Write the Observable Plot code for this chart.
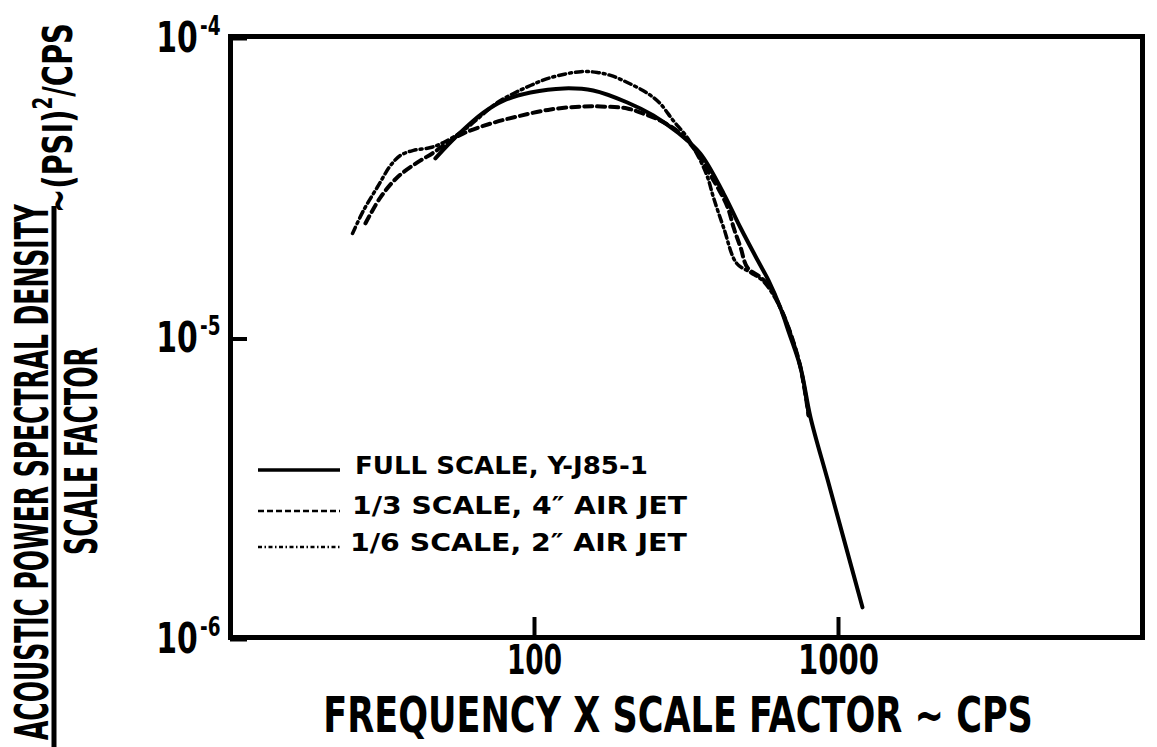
<!DOCTYPE html>
<html><head><meta charset="utf-8">
<script src="https://cdn.jsdelivr.net/npm/d3@7"></script>
<script src="https://cdn.jsdelivr.net/npm/@observablehq/plot@0.6"></script>
<style>
html,body{margin:0;padding:0;background:#fff;}
#chart{width:1157px;height:747px;overflow:hidden;position:relative;}
svg{display:block;}
</style></head><body><div id="chart"></div>
<script>
// ---------- data ----------
const xTicks = [100, 1000];
const yTicks = [1e-4, 1e-5, 1e-6];

const fullX = [47.2, 55.8, 67.9, 79.1, 97, 125, 156, 202, 246, 295, 351, 419, 476, 542, 589, 644, 688, 750, 809, 920, 1038, 1199];
const fullY = [3.93e-5, 4.69e-5, 5.58e-5, 6.12e-5, 6.51e-5, 6.72e-5, 6.61e-5, 6.03e-5, 5.46e-5, 4.80e-5, 4.08e-5, 3.00e-5, 2.31e-5, 1.80e-5, 1.54e-5, 1.25e-5, 1.03e-5, 7.92e-6, 5.40e-6, 3.36e-6, 2.15e-6, 1.26e-6];

const thirdX = [27.8, 31.1, 35.4, 41.2, 46.6, 51.8, 58.4, 71.7, 87.9, 113, 145, 165, 202, 228, 259, 302, 344, 371, 400, 432, 452, 476, 502, 554, 597, 644, 695, 750, 797];
const thirdY = [2.39e-5, 2.91e-5, 3.40e-5, 3.81e-5, 4.11e-5, 4.44e-5, 4.76e-5, 5.13e-5, 5.42e-5, 5.72e-5, 5.85e-5, 5.85e-5, 5.76e-5, 5.54e-5, 5.25e-5, 4.76e-5, 4.08e-5, 3.58e-5, 3.15e-5, 2.70e-5, 2.31e-5, 1.99e-5, 1.70e-5, 1.58e-5, 1.46e-5, 1.25e-5, 1.03e-5, 7.92e-6, 5.48e-6];

const sixthX = [25.2, 27.4, 30.4, 33.6, 36.2, 40.0, 45.5, 50.2, 58.4, 75.5, 85.3, 97.0, 113, 142, 161, 178, 202, 236, 259, 286, 318, 351, 371, 388, 419, 462, 514, 567, 644, 695, 750, 797];
const sixthY = [2.21e-5, 2.64e-5, 3.15e-5, 3.72e-5, 4.02e-5, 4.18e-5, 4.27e-5, 4.44e-5, 4.87e-5, 6.03e-5, 6.46e-5, 6.87e-5, 7.30e-5, 7.64e-5, 7.59e-5, 7.42e-5, 7.03e-5, 6.46e-5, 5.98e-5, 5.25e-5, 4.61e-5, 3.87e-5, 3.40e-5, 2.91e-5, 2.31e-5, 1.76e-5, 1.64e-5, 1.53e-5, 1.25e-5, 1.03e-5, 7.92e-6, 5.48e-6];

const legendLabels = ["FULL SCALE, Y-J85-1", "1/3 SCALE, 4\u2033 AIR JET", "1/6 SCALE, 2\u2033 AIR JET"];
const xTitle = "FREQUENCY X SCALE FACTOR ~ CPS";
const yTitleNum = "ACOUSTIC POWER SPECTRAL DENSITY";
const yTitleDen = "SCALE FACTOR";
const yTitleUnitA = "~(PSI)", yTitleUnitSup = "2", yTitleUnitB = "/CPS";

// ---------- styling ----------
const FONT = '"DejaVu Sans Condensed","DejaVu Sans",sans-serif';
const dashes = ["none", "8,5", "7,4,2,4"];
const legendDashes = ["none", "6,3", "4,2.5,1.5,2.5"];

const toRows = (xs, ys) => xs.map((x, i) => ({x, y: ys[i]}));
const supMap = {"-": "\u207B", "0": "\u2070", "1": "\u00B9", "2": "\u00B2", "3": "\u00B3", "4": "\u2074", "5": "\u2075", "6": "\u2076"};

const chart = Plot.plot({
  width: 1157, height: 747,
  marginLeft: 230, marginRight: 15, marginTop: 36, marginBottom: 110,
  style: {fontFamily: FONT, background: "#fff", color: "#000"},
  x: {type: "log", domain: [10, 10000]},
  y: {type: "log", domain: [1e-6, 1e-4]},
  marks: [
    Plot.line(toRows(fullX, fullY), {x: "x", y: "y", stroke: "#000", strokeWidth: 4, curve: "catmull-rom"}),
    Plot.line(toRows(thirdX, thirdY), {x: "x", y: "y", stroke: "#000", strokeWidth: 4, strokeDasharray: dashes[1], curve: "catmull-rom"}),
    Plot.line(toRows(sixthX, sixthY), {x: "x", y: "y", stroke: "#000", strokeWidth: 3.5, strokeDasharray: dashes[2], curve: "catmull-rom"}),
    Plot.axisX({ticks: xTicks, tickFormat: d => String(d), tickSize: -20, tickPadding: 28, strokeWidth: 4,
      fontSize: 40, fontWeight: "bold", label: null}),
    Plot.axisY({ticks: yTicks, tickFormat: d => "10" + String(Math.round(Math.log10(d))).split("").map(c => supMap[c]).join(""),
      tickSize: -17, tickPadding: 27, strokeWidth: 4, fontSize: 42, fontWeight: "bold", dy: 2, label: null}),
    Plot.frame({stroke: "#000", strokeWidth: 5})
  ]
});
document.getElementById("chart").appendChild(chart);

const svg = d3.select(chart);
const unsup = Object.fromEntries(Object.entries(supMap).map(([k, v]) => [v, k]));

// squeeze a text horizontally (in its own frame) to a target width
function squeeze(sel, target) {
  const w = sel.node().getComputedTextLength();
  const k = w > 0 ? target / w : 1;
  const tr = sel.attr("transform") || "";
  sel.attr("transform", `${tr} scale(${k},1)`);
}

// x tick labels: condensed widths
const xLabelWidth = {"100": 55, "1000": 81};
svg.selectAll('g[aria-label="x-axis tick label"] text').each(function () {
  const t = this.textContent;
  if (xLabelWidth[t]) squeeze(d3.select(this), xLabelWidth[t]);
});

// y tick labels: 10 with raised exponent
svg.selectAll('g[aria-label="y-axis tick label"] text').each(function () {
  const s = this.textContent;
  const exp = s.slice(2).split("").map(c => unsup[c] ?? c).join("");
  const t = d3.select(this);
  t.text(null);
  t.append("tspan").text("10");
  t.append("tspan").attr("font-size", 26).attr("dx", 3).attr("dy", -17).text(exp);
  squeeze(t, 62);
});

// annotations layer
const g = svg.append("g").attr("font-family", FONT).attr("font-weight", "bold").attr("fill", "#000")
  .attr("text-anchor", "start");

// y title (fraction)
squeeze(g.append("text").attr("transform", "translate(48,740) rotate(-90)").attr("font-size", 46).text(yTitleNum), 536);
g.append("line").attr("x1", 54).attr("x2", 54).attr("y1", 747).attr("y2", 206)
  .attr("stroke", "#000").attr("stroke-width", 5);
squeeze(g.append("text").attr("transform", "translate(97,555) rotate(-90)").attr("font-size", 44).text(yTitleDen), 208);
const u = g.append("text").attr("transform", "translate(72,213) rotate(-90)").attr("font-size", 41);
u.append("tspan").text(yTitleUnitA);
u.append("tspan").attr("font-size", 26).attr("dy", -20).text(yTitleUnitSup);
u.append("tspan").attr("dy", 20).text(yTitleUnitB);
squeeze(u, 190);

// x title
squeeze(g.append("text").attr("transform", "translate(678,732)").attr("text-anchor", "middle")
  .attr("font-size", 50).text(xTitle), 710);

// legend inside the frame
const legendRowY = [470, 511, 547];
const legendTextX = [355, 352, 350];
const legendTextW = [293, 335, 337];
const legendTextBase = [474, 514, 551];
legendLabels.forEach((lab, i) => {
  g.append("line").attr("x1", 258).attr("x2", 340).attr("y1", legendRowY[i]).attr("y2", legendRowY[i])
    .attr("stroke", "#000").attr("stroke-width", i === 0 ? 3.5 : 2.5)
    .attr("stroke-dasharray", legendDashes[i] === "none" ? null : legendDashes[i]);
  squeeze(g.append("text").attr("transform", `translate(${legendTextX[i]},${legendTextBase[i]})`)
    .attr("font-size", 25).text(lab), legendTextW[i]);
});
</script></body></html>
